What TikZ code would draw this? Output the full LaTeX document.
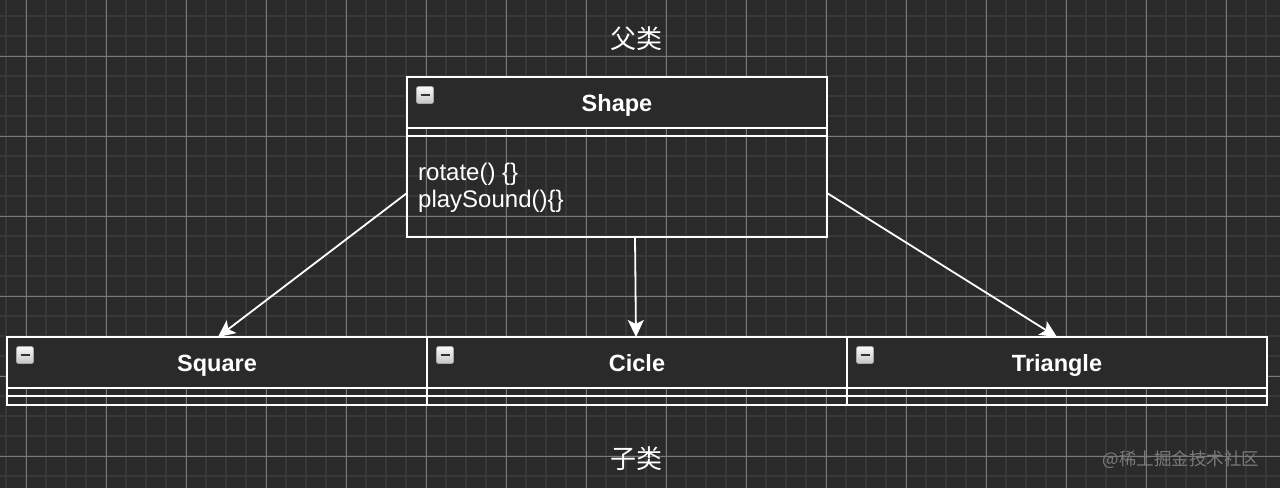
\documentclass[tikz,border=0pt]{standalone}
\usepackage{fontspec}
\setmainfont{Liberation Sans}
\newfontfamily\cjk{Noto Sans CJK SC}
\usetikzlibrary{arrows.meta}
\definecolor{bg}{HTML}{2A2A2A}
\definecolor{minorgrid}{HTML}{383838}
\definecolor{majorgrid}{HTML}{7A7A7A}
\definecolor{wm}{HTML}{7A7A7A}
\tikzset{
  hdr/.style={draw=white, line width=2pt, fill=bg, minimum width=420pt, minimum height=51pt,
    anchor=north west, inner sep=0pt, outer sep=0pt, text=white, font=\bfseries\fontsize{23.5}{27}\selectfont,
    text height=18pt, text depth=0pt},
  cmp/.style={draw=white, line width=2pt, minimum width=420pt, anchor=north west, inner sep=0pt, outer sep=0pt},
  icon/.style={draw=gray!70, line width=0.6pt, rounded corners=1.5pt, minimum size=17pt, inner sep=0pt,
    top color=white!95!gray, bottom color=gray!45!white},
  opstext/.style={anchor=base west, inner sep=0pt, text=white, font=\fontsize{24}{27}\selectfont},
  arr/.style={draw=white, line width=1.8pt, -{Stealth[length=17pt, width=16pt, inset=4pt]}},
  cjklabel/.style={text=white, font=\cjk\fontsize{26}{30}\selectfont, inner sep=0pt},
}
\newcommand{\minusicon}{\textcolor{black!80}{\rule[-1pt]{9pt}{2.4pt}}}
\begin{document}
\begin{tikzpicture}[x=1pt,y=-1pt]
\fill[bg] (0,0) rectangle (1280,488);
\useasboundingbox (0,0) rectangle (1280,488);
% grid
\foreach \x in {6,26,...,1266} \draw[minorgrid, line width=2pt] (\x,0) -- (\x,488);
\foreach \y in {16,36,...,476} \draw[minorgrid, line width=2pt] (0,\y) -- (1280,\y);
\foreach \x in {26,106,...,1226} \draw[majorgrid, line width=0.9pt] (\x,0) -- (\x,488);
\foreach \y in {56,136,...,456} \draw[majorgrid, line width=0.9pt] (0,\y) -- (1280,\y);

% labels
\node[cjklabel] (parent) at (636,39) {父类};
\node[cjklabel] (child) at (636,459) {子类};
\node[text=wm, font=\cjk\fontsize{17.5}{20}\selectfont, inner sep=0pt] (wmark) at (1181,460) {@稀土掘金技术社区};

% Shape class
\node[hdr] (shapeH) at (407,77) {Shape};
\node[cmp, minimum height=8pt] (shapeA) at (shapeH.south west) {};
\node[cmp, minimum height=101pt] (shapeB) at (shapeA.south west) {};
\node[icon] (shapeI) at (425,95) {\minusicon};
\node[opstext] (shapeOp1) at (418,180) {rotate() \{\}};
\node[opstext] (shapeOp2) at (418,207) {playSound()\{\}};

% Square
\node[hdr] (squareH) at (7,337) {Square};
\node[cmp, minimum height=8pt] (squareA) at (squareH.south west) {};
\node[cmp, minimum height=9pt] (squareB) at (squareA.south west) {};
\node[icon] (squareI) at (25,355) {\minusicon};

% Cicle
\node[hdr] (cicleH) at (427,337) {Cicle};
\node[cmp, minimum height=8pt] (cicleA) at (cicleH.south west) {};
\node[cmp, minimum height=9pt] (cicleB) at (cicleA.south west) {};
\node[icon] (cicleI) at (445,355) {\minusicon};

% Triangle
\node[hdr] (triH) at (847,337) {Triangle};
\node[cmp, minimum height=8pt] (triA) at (triH.south west) {};
\node[cmp, minimum height=9pt] (triB) at (triA.south west) {};
\node[icon] (triI) at (865,355) {\minusicon};

% arrows
\draw[arr] ([yshift=-6.5pt]shapeB.west) -- ([xshift=1pt]squareH.north);
\draw[arr] ([xshift=18pt]shapeB.south) -- ([xshift=-1pt]cicleH.north);
\draw[arr] ([yshift=-6.5pt]shapeB.east) -- (triH.north);
\end{tikzpicture}
\end{document}
